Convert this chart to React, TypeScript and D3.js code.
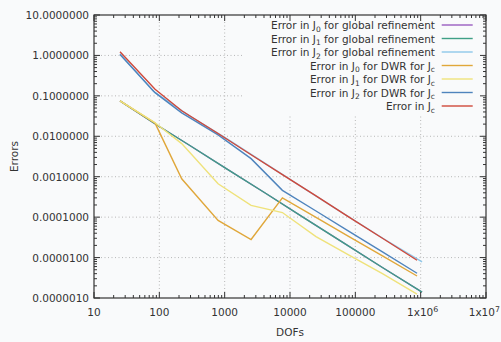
import React from "react";
import * as d3 from "d3";

const dofsGlobal = [25, 81, 289, 1089, 4225, 16641, 66049, 263169, 1050625];
const errJ0Global = [0.075, 0.0216, 6.0e-3, 1.54e-3, 3.9e-4, 9.5e-5, 2.3e-5, 5.6e-6, 1.4e-6];
const errJ1Global = [0.075, 0.0216, 6.0e-3, 1.54e-3, 3.9e-4, 9.5e-5, 2.3e-5, 5.6e-6, 1.4e-6];
const errJ2Global = [1.1, 0.13, 0.032, 0.0086, 2.1e-3, 5.1e-4, 1.22e-4, 3.0e-5, 7.8e-6];

const dofsDWR = [25, 86, 220, 793, 2537, 7650, 25000, 80000, 260000, 880000];
const errJ0DWR = [0.075, 0.0212, 8.9e-4, 8.3e-5, 2.8e-5, 3.0e-4, 9.9e-5, 3.3e-5, 1.1e-5, 3.5e-6];
const errJ1DWR = [0.075, 0.0216, 6.6e-3, 6.7e-4, 1.95e-4, 1.3e-4, 3.3e-5, 1.15e-5, 4.0e-6, 1.25e-6];
const errJ2DWR = [1.06, 0.12, 0.038, 0.0108, 2.8e-3, 4.6e-4, 1.42e-4, 4.45e-5, 1.38e-5, 4.1e-6];
const errJc = [1.23, 0.146, 0.0427, 0.0117, 3.5e-3, 1.13e-3, 3.35e-4, 1.0e-4, 3.0e-5, 8.6e-6];

const yTickValues = [1e-6, 1e-5, 1e-4, 1e-3, 1e-2, 1e-1, 1, 10];
const yTickLabels = ["0.0000010", "0.0000100", "0.0001000", "0.0010000", "0.0100000", "0.1000000", "1.0000000", "10.0000000"];
const xTickValues = [10, 100, 1000, 10000, 100000, 1e6, 1e7];
const xTickLabels = ["10", "100", "1000", "10000", "100000", "1x10^6", "1x10^7"];

const seriesNames = [
  ["Error in J", "0", " for global refinement"],
  ["Error in J", "1", " for global refinement"],
  ["Error in J", "2", " for global refinement"],
  ["Error in J", "0", " for DWR for J", "c"],
  ["Error in J", "1", " for DWR for J", "c"],
  ["Error in J", "2", " for DWR for J", "c"],
  ["Error in J", "c"],
];
const seriesColors = ["#9a5cc0", "#3f9f86", "#8ec7ea", "#e0a73a", "#efe27a", "#4f84bd", "#d0483a"];

const series = [
  { x: dofsGlobal, y: errJ0Global },
  { x: dofsGlobal, y: errJ1Global },
  { x: dofsGlobal, y: errJ2Global },
  { x: dofsDWR, y: errJ0DWR },
  { x: dofsDWR, y: errJ1DWR },
  { x: dofsDWR, y: errJ2DWR },
  { x: dofsDWR, y: errJc },
];

export default function App() {
  const W = 501, H = 342;
  const L = 94, R = 486, T = 15, B = 298;
  const x = d3.scaleLog().domain([10, 1e7]).range([L, R]);
  const y = d3.scaleLog().domain([1e-6, 10]).range([B, T]);
  const font = "'DejaVu Sans', sans-serif";
  const fs = 10.5;

  const line = d3.line<[number, number]>().x(d => x(d[0])).y(d => y(d[1]));

  const minorX: number[] = [];
  for (let e = 1; e < 7; e++) for (let m = 2; m <= 9; m++) minorX.push(m * Math.pow(10, e));
  const minorY: number[] = [];
  for (let e = -6; e < 1; e++) for (let m = 2; m <= 9; m++) minorY.push(m * Math.pow(10, e));

  const legendTop = 25;
  const legendStep = 13.5;

  return (
    <svg width={W} height={H} style={{ position: "absolute", left: 0, top: 0 }} fontFamily={font}>
      <rect x={0} y={0} width={W} height={H} fill="#f9fafb" />
      {/* grid */}
      {xTickValues.slice(1, -1).map((v, i) => (
        <line key={"gx" + i} x1={x(v)} x2={x(v)} y1={T} y2={B} stroke="#b0b0b0" strokeWidth={0.9} strokeDasharray="1,2.5" />
      ))}
      {yTickValues.slice(1, -1).map((v, i) => (
        <line key={"gy" + i} x1={L} x2={R} y1={y(v)} y2={y(v)} stroke="#b0b0b0" strokeWidth={0.9} strokeDasharray="1,2.5" />
      ))}
      {/* legend box (opaque) */}
      <rect x={242} y={T + 1} width={R - 242 - 1} height={113 - T} fill="#f9fafb" />
      {/* series */}
      {series.map((s, i) => (
        <path key={"s" + i} d={line(s.x.map((v, j) => [v, s.y[j]] as [number, number])) || ""} fill="none" stroke={seriesColors[i]} strokeWidth={1.4} />
      ))}
      {/* legend */}
      {seriesNames.map((parts, i) => {
        const yy = legendTop + i * legendStep;
        return (
          <g key={"lg" + i}>
            <text x={435} y={yy + 4} textAnchor="end" fontSize={fs} fill="#333">
              {parts[0]}
              <tspan fontSize={fs * 0.72} dy={2.5}>{parts[1]}</tspan>
              {parts.length > 2 && <tspan dy={-2.5}>{parts[2]}</tspan>}
              {parts.length > 3 && <tspan fontSize={fs * 0.72} dy={2.5}>{parts[3]}</tspan>}
            </text>
            <line x1={441.7} x2={472.7} y1={yy} y2={yy} stroke={seriesColors[i]} strokeWidth={1.4} />
          </g>
        );
      })}
      {/* minor ticks */}
      {minorX.map((v, i) => (
        <g key={"mx" + i}>
          <line x1={x(v)} x2={x(v)} y1={B} y2={B - 3} stroke="#333" />
          <line x1={x(v)} x2={x(v)} y1={T} y2={T + 3} stroke="#333" />
        </g>
      ))}
      {minorY.map((v, i) => (
        <g key={"my" + i}>
          <line x1={L} x2={L + 3} y1={y(v)} y2={y(v)} stroke="#333" />
          <line x1={R} x2={R - 3} y1={y(v)} y2={y(v)} stroke="#333" />
        </g>
      ))}
      {/* major ticks */}
      {xTickValues.map((v, i) => (
        <g key={"Mx" + i}>
          <line x1={x(v)} x2={x(v)} y1={B} y2={B - 6} stroke="#333" />
          <line x1={x(v)} x2={x(v)} y1={T} y2={T + 6} stroke="#333" />
        </g>
      ))}
      {yTickValues.map((v, i) => (
        <g key={"My" + i}>
          <line x1={L} x2={L + 6} y1={y(v)} y2={y(v)} stroke="#333" />
          <line x1={R} x2={R - 6} y1={y(v)} y2={y(v)} stroke="#333" />
        </g>
      ))}
      {/* frame */}
      <rect x={L} y={T} width={R - L} height={B - T} fill="none" stroke="#333" strokeWidth={1.2} />
      {/* y tick labels */}
      {yTickValues.map((v, i) => (
        <text key={"yl" + i} x={89} y={y(v) + 4} textAnchor="end" fontSize={fs} fill="#333">{yTickLabels[i]}</text>
      ))}
      {/* x tick labels */}
      {xTickValues.map((v, i) => {
        const lab = xTickLabels[i];
        const last = i === xTickValues.length - 1;
        if (lab.includes("^")) {
          const [base, exp] = lab.split("^");
          return (
            <text key={"xl" + i} x={last ? 500 : x(v) + 2} y={316} textAnchor={last ? "end" : "middle"} fontSize={fs} fill="#333">
              {base}<tspan fontSize={fs * 0.75} dy={-4.5}>{exp}</tspan>
            </text>
          );
        }
        return <text key={"xl" + i} x={x(v)} y={316} textAnchor="middle" fontSize={fs} fill="#333">{lab}</text>;
      })}
      <text x={290} y={336} textAnchor="middle" fontSize={fs} fill="#333">DOFs</text>
      <text transform={`translate(18,${(T + B) / 2}) rotate(-90)`} textAnchor="middle" fontSize={fs} fill="#333">Errors</text>
    </svg>
  );
}
